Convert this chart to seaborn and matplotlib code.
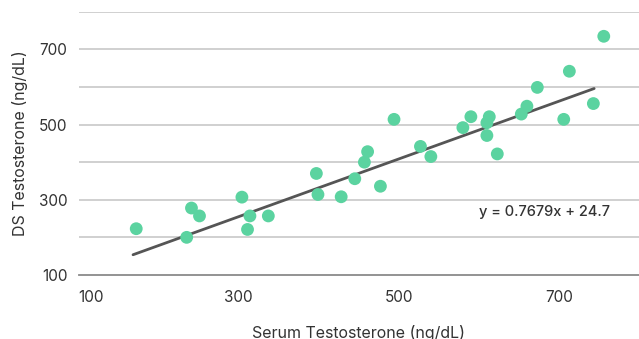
import pandas as pd
import seaborn as sns
import matplotlib.pyplot as plt

# values
serum = [172, 235, 241, 251, 304, 311, 314, 337, 397, 399, 428, 445, 457, 461, 477,
         494, 527, 540, 580, 590, 610, 613, 610, 623, 653, 660, 673, 706, 713, 743, 756]
ds = [223, 200, 278, 257, 307, 221, 257, 257, 370, 314, 308, 356, 400, 428, 336,
      514, 442, 415, 492, 521, 505, 521, 471, 422, 528, 549, 599, 514, 642, 556, 735]

slope = 0.7679
intercept = 24.7
trend_range = [168, 744]

x_ticks = [100, 300, 500, 700]
y_ticks = [100, 300, 500, 700]

df = pd.DataFrame({"serum": serum, "ds": ds})
trend = pd.DataFrame({"serum": trend_range})
trend["ds"] = slope * trend["serum"] + intercept

sns.set_theme(style="white")
plt.rcParams['font.family'] = ['Inter', 'DejaVu Sans']

fig = plt.figure(figsize=(6.39, 3.39), dpi=100)
ax = fig.add_axes([0.123, 0.189, 0.877, 0.776])

# gridlines every 100 ng/dL
for v in range(200, 900, 100):
    ax.axhline(v, color="#c8c8c8", lw=1.2, zorder=0)

sns.scatterplot(data=df, x="serum", y="ds", color="#5bd3a0", s=85,
                edgecolor="none", ax=ax, zorder=3)
sns.lineplot(data=trend, x="serum", y="ds", color="#555555", lw=2, ax=ax, zorder=2)

ax.set_xlim(100, 800)
ax.set_ylim(100, 800)
ax.set_xticks(x_ticks)
ax.set_yticks(y_ticks)
ax.tick_params(axis="both", length=0, labelsize=11, colors="#333333")
ax.tick_params(axis="x", pad=11)
ax.tick_params(axis="y", pad=8)
for lab in ax.get_xticklabels():
    if lab.get_text() == "100":
        lab.set_ha("left")

for side in ["top", "right", "left"]:
    ax.spines[side].set_visible(False)
ax.spines["bottom"].set_color("#8a8a8a")
ax.spines["bottom"].set_linewidth(1.3)

ax.set_xlabel("Serum Testosterone (ng/dL)", fontsize=11.5, color="#333333", labelpad=14)
ax.set_ylabel("DS Testosterone (ng/dL)", fontsize=11.5, color="#333333", labelpad=8)

ax.text(600, 268, f"y = {slope}x + {intercept}", fontsize=10.5, color="#333333",
        fontweight="medium", ha="left", va="center")

fig.savefig("out.png", dpi=100)
